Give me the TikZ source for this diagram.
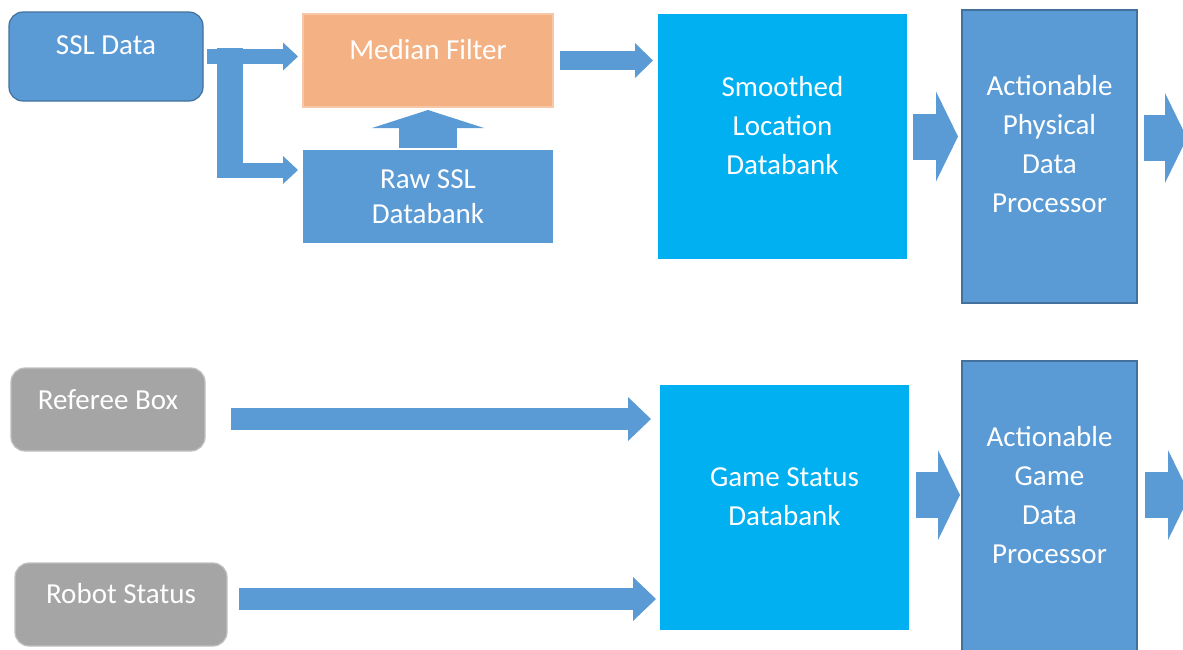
\documentclass[tikz,border=0pt]{standalone}
\usepackage{fontspec}
\setmainfont{Carlito}
\usetikzlibrary{arrows.meta, calc}

\definecolor{blu}{HTML}{5B9BD5}
\definecolor{bluedge}{HTML}{41719C}
\definecolor{cyn}{HTML}{00B0F0}
\definecolor{org}{HTML}{F4B183}
\definecolor{gry}{HTML}{A5A5A5}

\begin{document}
\begin{tikzpicture}[x=0.5pt, y=-0.5pt,
  txt/.style={text=white, align=center, font=\fontsize{14.5pt}{19.5pt}\selectfont},
  box/.style={inner sep=0pt, outer sep=0pt, line width=0.6pt},
  src/.style={box, fill=blu, draw=bluedge, rounded corners=7pt},
  feed/.style={box, fill=gry, draw=gry!70!white, rounded corners=7pt},
  filt/.style={box, fill=org, draw=org!70!white},
  bank/.style={box, fill=blu},
  store/.style={box, fill=cyn},
  proc/.style={box, fill=blu, draw=bluedge},
  pipe/.style n args={3}{draw=blu, line width=#1, -{Triangle[width=#2, length=#3, line width=0pt]}},
  forkbar/.style={draw=blu, line width=13pt}]
\useasboundingbox (0,0) rectangle (1183,649);

% inputs
\node[src, minimum width=97pt, minimum height=44.5pt,
  label={[txt, name=ssltxt, yshift=5.75pt]center:SSL Data}] (ssl) at (106,56.5) {};
\node[feed, minimum width=97pt, minimum height=41.5pt,
  label={[txt, name=reftxt, yshift=4.75pt]center:Referee Box}] (referee) at (108,409.5) {};
\node[feed, minimum width=106pt, minimum height=41.5pt,
  label={[txt, name=robtxt, yshift=5.25pt]center:Robot Status}] (robot) at (121,604.5) {};

% filtering
\node[filt, minimum width=125pt, minimum height=46.5pt,
  label={[txt, name=medtxt, yshift=5.25pt]center:Median Filter}] (median) at (428,60.5) {};
\node[bank, minimum width=125pt, minimum height=46.5pt,
  label={[txt, name=rawtxt, font=\fontsize{14.5pt}{17.5pt}\selectfont]center:Raw SSL\\Databank}] (raw) at (428,196.5) {};

% databanks
\node[store, minimum width=124.5pt, minimum height=122.5pt,
  label={[txt, name=sldtxt, yshift=5.25pt]center:Smoothed\\Location\\Databank}] (sld) at (782.5,136.5) {};
\node[store, minimum width=124.5pt, minimum height=122.5pt,
  label={[txt, name=gamtxt, yshift=5.25pt]center:Game Status\\Databank}] (game) at (784.5,507.5) {};

% processors
\node[proc, minimum width=87.5pt, minimum height=146.5pt,
  label={[txt, name=phytxt, yshift=6pt]center:Actionable\\Physical\\Data\\Processor}] (phys) at (1049.5,156.5) {};
\node[proc, minimum width=87.5pt, minimum height=146.5pt,
  label={[txt, name=gprtxt, yshift=6.25pt]center:Actionable\\Game\\Data\\Processor}] (gproc) at (1049.5,507.5) {};

\coordinate (fork) at (230,170);
\coordinate (physout) at (1187,138);
\coordinate (gprocout) at (1190,495);

% ssl data split
\draw[forkbar] ($(fork |- ssl.east)+(0,-9)$) -- ($(fork)+(0,8)$);
\draw[pipe={7.5pt}{14pt}{7.5pt}] ([xshift=2pt]ssl.east) -- ($(median.west |- ssl.east)+(-2.5pt,0)$);
\draw[pipe={7.5pt}{14pt}{7.5pt}] (fork) -- ($(raw.west |- fork)+(-2.5pt,0)$);

\draw[pipe={29pt}{56pt}{9pt}] ([yshift=1pt]raw.north) -- ([yshift=-1.5pt]median.south);
\draw[pipe={9.5pt}{17.5pt}{9pt}] ([xshift=3.5pt]median.east) -- ($(sld.west |- median.east)+(-2.5pt,0)$);

\draw[pipe={23pt}{45pt}{11pt}] ([xshift=3pt]sld.east) -- ($(phys.west |- sld.east)+(-2pt,0)$);
\draw[pipe={23pt}{45pt}{11pt}] ($(phys.east |- physout)+(3.5pt,0)$) -- (physout);

% game status
\draw[pipe={11pt}{22pt}{11.5pt}] ($(referee.east)+(13pt,-4.75pt)$) -- ($(game.west |- referee.east)+(-4.5pt,-4.75pt)$);
\draw[pipe={11pt}{22pt}{11.5pt}] ($(robot.east)+(6pt,2.75pt)$) -- ($(game.west |- robot.east)+(-2pt,2.75pt)$);

\draw[pipe={23pt}{45pt}{11pt}] ($(game.east)+(3.5pt,6.25pt)$) -- ($(gproc.west |- game.east)+(-1pt,6.25pt)$);
\draw[pipe={23pt}{45pt}{11pt}] ($(gproc.east |- gprocout)+(4pt,0)$) -- (gprocout);
\end{tikzpicture}
\end{document}
